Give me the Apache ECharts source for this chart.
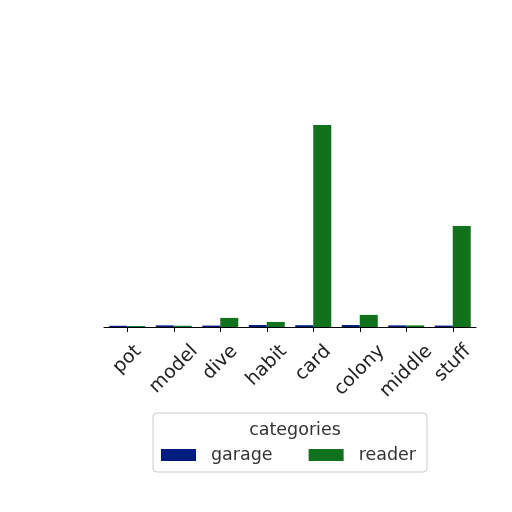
<!DOCTYPE html>
<html>
<head>
<meta charset="UTF-8">
<script src="https://cdn.jsdelivr.net/npm/echarts@6/dist/echarts.min.js"></script>
<style>
    html, body { margin: 0; padding: 0; background: #ffffff; }
    #barPlot { width: 512px; height: 512px; }
</style>
</head>
<body>
<div id="barPlot"></div>
<script type="text/javascript">
// Categories along the x axis.
const categories = ['pot', 'model', 'dive', 'habit', 'card', 'colony', 'middle', 'stuff'];

// Series values (no y axis shown).
const garage = [0.6, 0.8, 0.7, 1.0, 0.9, 1.0, 0.8, 0.7];
const reader = [0.5, 0.6, 4.5, 2.5, 100, 6, 0.8, 50];

const seriesNames = ['garage', 'reader'];
const legendTitle = 'categories';

const chart = echarts.init(document.getElementById('barPlot'));

const font = 'DejaVu Sans';
const labelSize = 19;

const option = {
    backgroundColor: '#ffffff',
    animation: false,
    title: {
        text: legendTitle,
        left: 290,
        top: 416,
        textAlign: 'center',
        textStyle: {
            fontFamily: font,
            fontSize: 17.5,
            fontWeight: 'normal',
            color: '#333333'
        }
    },
    legend: {
        data: seriesNames,
        left: 153,
        top: 413,
        orient: 'horizontal',
        padding: [33, 11, 8, 8],
        itemWidth: 35,
        itemHeight: 12,
        itemGap: 36,
        backgroundColor: 'rgba(255,255,255,0.8)',
        borderColor: '#cccccc',
        borderWidth: 1,
        borderRadius: 4,
        icon: 'rect',
        textStyle: {
            fontFamily: font,
            fontSize: 17.5,
            color: '#333333',
            padding: [0, 0, 0, 10]
        }
    },
    grid: {
        left: 104,
        right: 36,
        top: 125,
        bottom: 185,
        containLabel: false
    },
    xAxis: {
        type: 'category',
        data: categories,
        boundaryGap: true,
        axisLine: {
            show: true,
            lineStyle: { color: '#000000', width: 1 }
        },
        axisTick: {
            show: true,
            alignWithLabel: true,
            length: 5,
            lineStyle: { color: '#000000' }
        },
        // labels are placed below, centred on the tick like matplotlib does
        axisLabel: { show: false },
        splitLine: { show: false }
    },
    yAxis: {
        type: 'value',
        min: 0,
        max: 100,
        show: false
    },
    series: [
        {
            name: 'garage',
            type: 'bar',
            data: garage,
            barWidth: 18,
            barGap: '0%',
            itemStyle: { color: '#001c7f' }
        },
        {
            name: 'reader',
            type: 'bar',
            data: reader,
            barWidth: 18,
            barGap: '0%',
            itemStyle: { color: '#12711c' }
        }
    ]
};

chart.setOption(option);

// Rotated tick labels, box centred on each tick.
const ctx = document.createElement('canvas').getContext('2d');
ctx.font = labelSize + 'px "' + font + '"';
const axisY = chart.convertToPixel({ yAxisIndex: 0 }, 0);
const labels = categories.map(function (name) {
    const x = chart.convertToPixel({ xAxisIndex: 0 }, name);
    const w = ctx.measureText(name).width;
    const d = (w + labelSize * 0.8) * Math.SQRT1_2;
    return {
        type: 'text',
        x: x,
        y: axisY + 16 + d / 2,
        rotation: Math.PI / 4,
        style: {
            text: name,
            font: labelSize + 'px "' + font + '"',
            fill: '#222222',
            align: 'center',
            verticalAlign: 'middle'
        }
    };
});
chart.setOption({ graphic: labels });
</script>
</body>
</html>
